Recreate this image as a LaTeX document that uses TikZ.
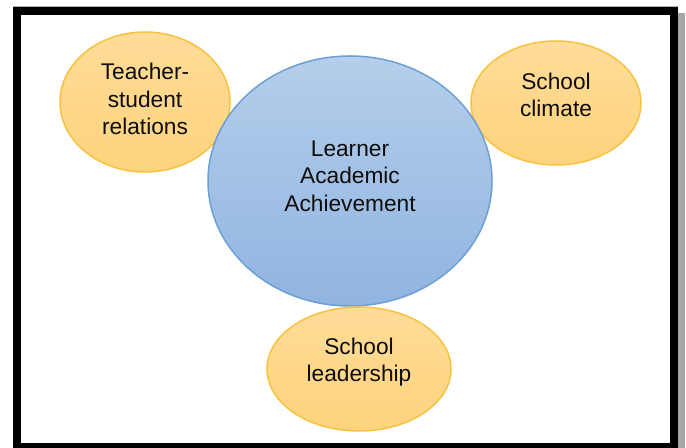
\documentclass[tikz,border=0pt]{standalone}
\usepackage{fontspec}
\setmainfont{Liberation Sans}
\usetikzlibrary{shapes.geometric}

\definecolor{ylwtop}{HTML}{FFDC99}
\definecolor{ylwbot}{HTML}{FED37C}
\definecolor{ylwline}{HTML}{F8C240}
\definecolor{blutop}{HTML}{B5CEEB}
\definecolor{blubot}{HTML}{90B4E0}
\definecolor{bluline}{HTML}{6C9FD6}

\tikzset{
    factor/.style={ellipse, draw=ylwline, line width=0.75pt, top color=ylwtop, bottom color=ylwbot, inner sep=0pt},
    hub/.style={ellipse, draw=bluline, line width=0.75pt, top color=blutop, bottom color=blubot, inner sep=0pt},
    caption/.style={align=center, inner sep=0pt, text=black!95, font=\fontsize{11.35}{13.75}\selectfont}
}

\begin{document}
\begin{tikzpicture}[x=0.5pt, y=-0.5pt]
    \useasboundingbox (0,0) rectangle (686,448);
    % frame with its shadow
    \fill[black!35] (19,13) rectangle (685,455);
    \draw[black!30, line width=0.5pt] (13,6.5) -- (678,6.5);
    \draw[line width=4pt, fill=white] (17,11) rectangle (674,447);

    \node[factor, minimum width=85pt, minimum height=70pt] (tsr) at (145,102) {};
    \node[factor, minimum width=85pt, minimum height=62pt] (climate) at (556,103) {};
    \node[hub, minimum width=142pt, minimum height=125pt] (lae) at (350,181) {};
    \node[factor, minimum width=92pt, minimum height=62pt] (lead) at (359,369) {};

    \node[caption] (tsrtext) at ([yshift=1.5pt]tsr.center) {Teacher-\\student\\relations};
    \node[caption] (climatetext) at ([yshift=4pt]climate.center) {School\\climate};
    \node[caption] (laetext) at ([yshift=2.5pt]lae.center) {Learner\\Academic\\Achievement};
    \node[caption] (leadtext) at ([yshift=3.5pt]lead.center) {School\\leadership};
\end{tikzpicture}
\end{document}
